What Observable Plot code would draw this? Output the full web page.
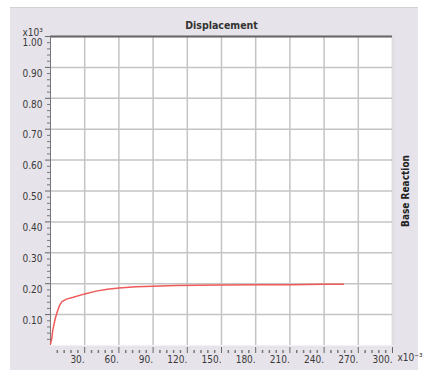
<!DOCTYPE html>
<html><head><meta charset="utf-8">
<script src="https://cdn.jsdelivr.net/npm/d3@7"></script>
<script src="https://cdn.jsdelivr.net/npm/@observablehq/plot@0.6"></script>
<style>
body{margin:0;background:#fff;width:424px;height:374px;position:relative;overflow:hidden;}
#panel{position:absolute;left:10px;top:7px;width:408px;height:362px;background:#e7e3ea;border-top:1px solid #d4d0d8;}
#chart{position:absolute;left:0;top:0;}
</style></head>
<body><div id="panel"></div><div id="chart"></div>
<script>
const dispX = [0, 1, 2, 4, 6, 8, 10, 14, 20, 30, 40, 50, 60, 75, 90, 110, 130, 150, 180, 210, 240, 257];
const reaction = [0.005, 0.02, 0.05, 0.085, 0.11, 0.13, 0.142, 0.15, 0.156, 0.167, 0.176, 0.182, 0.186, 0.19, 0.192, 0.194, 0.195, 0.196, 0.197, 0.197, 0.198, 0.198];
const xTicks = [30, 60, 90, 120, 150, 180, 210, 240, 270, 300];
const xMinor = d3.range(6, 300, 6).filter(v => v % 30 !== 0);
const yTicks = [0.1, 0.2, 0.3, 0.4, 0.5, 0.6, 0.7, 0.8, 0.9, 1.0];
const yMinor = d3.range(1, 50).map(i => i * 0.02).filter(v => Math.abs(v * 10 - Math.round(v * 10)) > 1e-6);
const title = "Displacement";
const yLabel = "Base Reaction";

const data = dispX.map((x, i) => ({x, y: reaction[i]}));
const font = "'Liberation Sans Narrow', 'DejaVu Sans Condensed', 'Liberation Sans', sans-serif";

const chart = Plot.plot({
  width: 424, height: 374,
  marginLeft: 50, marginRight: 32, marginTop: 36, marginBottom: 29,
  style: {background: "transparent", fontFamily: font, fontSize: "10px", color: "#333", fontStretch: "condensed"},
  x: {domain: [0, 300]},
  y: {domain: [0, 1]},
  marks: [
    Plot.frame({fill: "white", stroke: null}),
    Plot.gridX(xTicks, {stroke: "#c4c4c4", strokeOpacity: 1, strokeWidth: 1.5}),
    Plot.gridY(yTicks, {stroke: "#c4c4c4", strokeOpacity: 1, strokeWidth: 1.5}),
    Plot.ruleX([300], {stroke: "#e0e0e0", strokeWidth: 1}),
    Plot.ruleY([1], {stroke: "#666", strokeWidth: 2}),
    Plot.ruleX([0], {stroke: "#777", strokeWidth: 1}),
    Plot.axisY(yTicks, {tickSize: 5, text: null, label: null, stroke: "#666"}),
    Plot.text(yTicks, {x: 0, y: d => d, text: d3.format(".2f"), textAnchor: "end", dx: -8, dy: 6, fill: "#3a3a3a"}),
    Plot.axisY(yMinor, {tickSize: 3, text: null, label: null, stroke: "#777"}),
    Plot.axisX(xTicks, {tickSize: 6, dy: 2, text: null, label: null, stroke: "#666"}),
    Plot.text(xTicks, {x: d => d, frameAnchor: "bottom", text: d => d + ".", textAnchor: "end", dx: 0, dy: 17, fill: "#3a3a3a"}),
    Plot.axisX(xMinor, {tickSize: 3, dy: 5, text: null, label: null, stroke: "#777", strokeWidth: 1.5}),
    Plot.line(data, {x: "x", y: "y", stroke: "#f05a5a", strokeWidth: 1.5}),
    Plot.text([title], {frameAnchor: "top", dy: -15, fontWeight: "bold", fontSize: 10.5, fill: "#333"}),
    Plot.text([yLabel], {frameAnchor: "right", dx: 13, rotate: -90, textAnchor: "middle", fontWeight: "bold", fontSize: 10, fill: "#222"}),
    Plot.text(["x10³"], {frameAnchor: "top-left", dx: -28, dy: -8, fontSize: 10, fill: "#3a3a3a", textAnchor: "start"}),
    Plot.text(["x10⁻³"], {frameAnchor: "bottom-right", dx: 5, dy: 15, fontSize: 10, fill: "#3a3a3a", textAnchor: "start"})
  ]
});
document.getElementById("chart").appendChild(chart);
</script>
</body></html>
